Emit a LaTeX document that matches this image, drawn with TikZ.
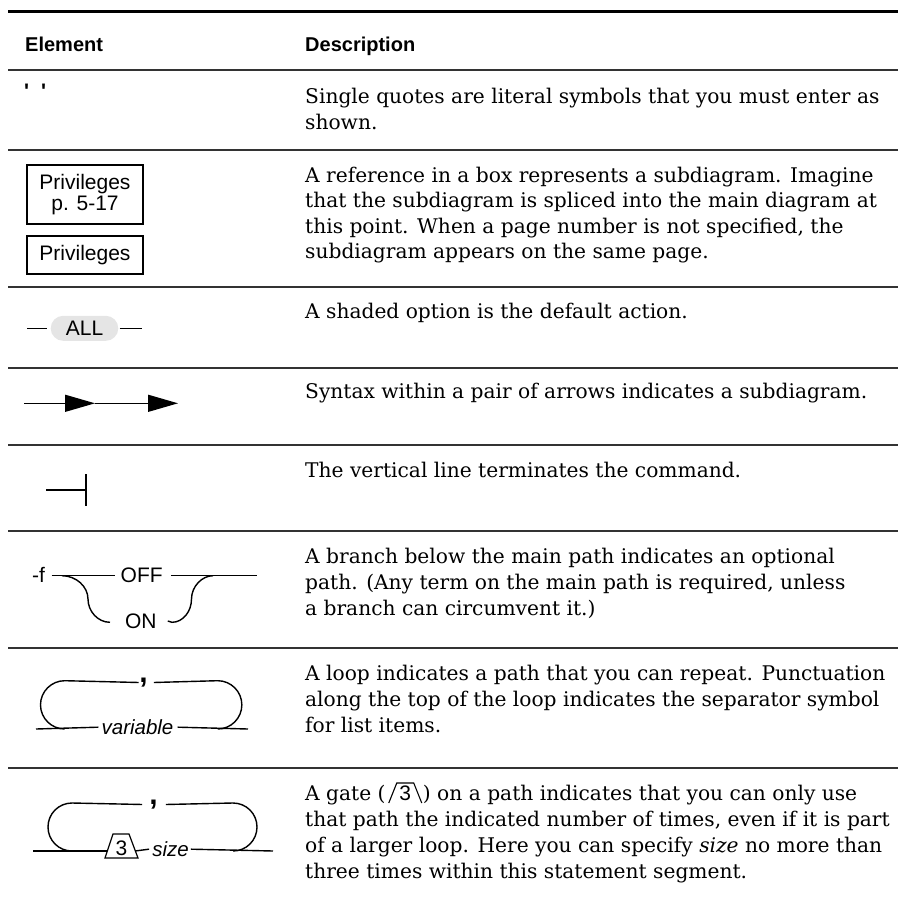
\documentclass[tikz,border=0pt]{standalone}
\usepackage{fontspec}
\setmainfont{DejaVu Serif}
\newfontfamily\hv{Liberation Sans}
\usetikzlibrary{arrows.meta,calc}
\begin{document}
\begin{tikzpicture}[x=1pt,y=-1pt,
  rule/.style={line width=1.1pt,draw=black!80},
  headrule/.style={line width=3.5pt,draw=black},
  head/.style={anchor=base west,inner sep=0pt,font=\hv\bfseries\fontsize{20}{20}\selectfont},
  desc/.style={anchor=base west,inner sep=0pt,font=\fontsize{20.2}{21}\selectfont},
  lbl/.style={inner sep=0pt,font=\hv\fontsize{21}{21}\selectfont},
  itlbl/.style={inner sep=0pt,anchor=base,font=\hv\itshape\fontsize{20.5}{21}\selectfont},
  syn/.style={line width=1.4pt,draw=black},
  refbox/.style={draw=black,line width=2pt,inner sep=0pt,align=center,font=\hv\fontsize{21}{21}\selectfont},
  sepmark/.style={inner sep=0pt,anchor=base,font=\hv\bfseries\fontsize{30}{30}\selectfont},
  tip/.style={-{Triangle[length=30pt,width=17pt]}},
]
\useasboundingbox (0,0) rectangle (898,900);

% table rules
\coordinate (topl) at (8,11.5);
\coordinate (topr) at (898,11.5);
\draw[headrule] (topl) -- (topr);
\foreach \yy in {70,150,287,368,445,531,648,768}
  \draw[rule] (8,\yy) -- (898,\yy);

% column heads
\node[head] (hel) at (25,51) {Element};
\node[head] (hde) at (305,51) {Description};

% descriptions
\node[desc] (d1a) at (305,103) {Single quotes are literal symbols that you must enter as};
\node[desc] (d1b) at (305,129) {shown.};

\node[desc] (d2a) at (305,182) {A reference in a box represents a subdiagram. Imagine};
\node[desc] (d2b) at (305,207.5) {that the subdiagram is spliced into the main diagram at};
\node[desc] (d2c) at (305,233) {this point. When a page number is not specified, the};
\node[desc] (d2d) at (305,258) {subdiagram appears on the same page.};

\node[desc] (d3a) at (305,318) {A shaded option is the default action.};

\node[desc] (d4a) at (305,398) {Syntax within a pair of arrows indicates a subdiagram.};

\node[desc] (d5a) at (305,477) {The vertical line terminates the command.};

\node[desc] (d6a) at (305,563) {A branch below the main path indicates an optional};
\node[desc] (d6b) at (305,589) {path. (Any term on the main path is required, unless};
\node[desc] (d6c) at (305,615) {a branch can circumvent it.)};

\node[desc] (d7a) at (305,680) {A loop indicates a path that you can repeat. Punctuation};
\node[desc] (d7b) at (305,706) {along the top of the loop indicates the separator symbol};
\node[desc] (d7c) at (305,732) {for list items.};

\node[desc] (d8a) at (305,800) {A gate (};
\node[lbl,anchor=base] (g3i) at ($(d8a.base east)+(19.5,0)$) {3};
\draw[line width=1.1pt] ($(g3i.base)+(-16.5,3)$) -- ($(g3i.base)+(-8.5,-17)$)
  -- ($(g3i.base)+(8.5,-17)$) -- ($(g3i.base)+(16.5,3)$);
\node[desc] (d8b) at ($(d8a.base east)+(37,0)$) {) on a path indicates that you can only use};
\node[desc] (d8c) at (305,826) {that path the indicated number of times, even if it is part};
\node[desc] (d8d) at (305,852) {of a larger loop. Here you can specify \textit{size} no more than};
\node[desc] (d8e) at (305,878) {three times within this statement segment.};

% row 1: quotes
\node[lbl,anchor=base west,font=\hv\bfseries\fontsize{21}{21}\selectfont] (qq) at (24,98) {\textquotesingle\hspace{12pt}\textquotesingle};

% row 2: reference boxes
\node[refbox,minimum width=116pt,minimum height=59pt] (priv1) at (85,194.5) {Privileges\\p. 5-17};
\node[refbox,minimum width=116pt,minimum height=38pt] (priv2) at (85,255) {Privileges};

% row 3: default option
\node[lbl,fill=black!10,rounded corners=12.5pt,minimum width=67.6pt,minimum height=25pt] (all) at (84.5,328.3) {ALL};
\coordinate (allin) at (27,328.3);
\coordinate (allout) at (142,328.3);
\draw[syn] (allin) -- ([xshift=-4pt]all.west);
\draw[syn] ([xshift=1pt]all.east) -- (allout);

% row 4: subdiagram arrows
\coordinate (s0) at (24,403.3);
\coordinate (s1) at (95,403.3);
\coordinate (s2) at (178,403.3);
\draw[syn,tip] (s0) -- (s1);
\draw[syn,tip] (s1) -- (s2);

% row 5: terminator
\coordinate (v0) at (46,490);
\coordinate (v1) at (86,490);
\draw[syn] (v0) -- (v1);
\draw[syn] ([yshift=16pt]v1) -- ([yshift=-16pt]v1);

% row 6: optional branch
\node[lbl,anchor=base west] (flag) at (32,582) {-f};
\node[lbl] (off) at (141.7,575.7) {OFF};
\node[lbl] (on) at (140.8,621) {ON};
\coordinate (bin) at (51.7,575.7);
\coordinate (bout) at (256.7,575.7);
\draw[syn] (bin) -- ([xshift=-6pt]off.west);
\draw[syn] ([xshift=8pt]off.east) -- (bout);
\coordinate (lb0) at (62,575.7);
\coordinate (lb1) at (110,622.3);
\draw[syn] (lb0) .. controls +(14,0) and +(0,-12.5) .. (88,599)
  .. controls +(0,12.5) and +(-12,0) .. (lb1);
\coordinate (rb0) at (172,622.3);
\coordinate (rb1) at (213,575.7);
\draw[syn] ([xshift=11pt]on.east) -- (rb0) .. controls +(11,0) and +(0,12.5) .. (191.5,599)
  .. controls +(0,-12.5) and +(-11,0) .. (rb1);

% row 7: repeat loop
\coordinate (l1in) at (36,729);
\coordinate (l1out) at (248,729);
\node[itlbl] (var) at (137.5,734.5) {variable};
\draw[syn] (l1in) -- ([xshift=-3pt]var.west);
\draw[syn] ([xshift=4pt]var.east) -- (l1out);
\node[sepmark] (c1) at (143.5,682.4) {,};
\coordinate (l1a) at (64.7,680.7);
\coordinate (l1b) at (64.7,729);
\coordinate (l1c) at (217.7,680.7);
\coordinate (l1d) at (217.7,729);
\draw[syn] (l1b) .. controls +(-13.3,0) and +(0,13.3) .. (40.5,704.85)
  .. controls +(0,-13.3) and +(-13.3,0) .. (l1a) -- ([xshift=-0.5pt]c1.west);
\draw[syn] ([xshift=6pt]c1.east) -- (l1c) .. controls +(13.3,0) and +(0,-13.3) .. (241.85,704.85)
  .. controls +(0,13.3) and +(13.3,0) .. (l1d);

% row 8: loop with gate
\coordinate (l2in) at (33,851);
\coordinate (l2out) at (273,851);
\coordinate (gl) at (108,851);
\coordinate (gr) at (135,851);
\draw[syn] (l2in) -- (gl);
\draw[line width=1.2pt,fill=white] (105,858) -- (113,834) -- (129,834) -- (138,858) -- cycle;
\node[lbl,anchor=base] (g3) at (121.5,855.5) {3};
\node[itlbl] (size) at (170.5,856.5) {size};
\draw[syn] (gr) -- ([xshift=-3pt]size.west);
\draw[syn] ([xshift=2pt]size.east) -- (l2out);
\node[sepmark] (c2) at (153.5,804.4) {,};
\coordinate (l2a) at (72,803);
\coordinate (l2b) at (72,851);
\coordinate (l2c) at (233,803);
\coordinate (l2d) at (233,851);
\draw[syn] (l2b) .. controls +(-13.3,0) and +(0,13.3) .. (48,827)
  .. controls +(0,-13.3) and +(-13.3,0) .. (l2a) -- ([xshift=-7pt]c2.west);
\draw[syn] ([xshift=8pt]c2.east) -- (l2c) .. controls +(13.3,0) and +(0,-13.3) .. (257,827)
  .. controls +(0,13.3) and +(13.3,0) .. (l2d);
\end{tikzpicture}
\end{document}
